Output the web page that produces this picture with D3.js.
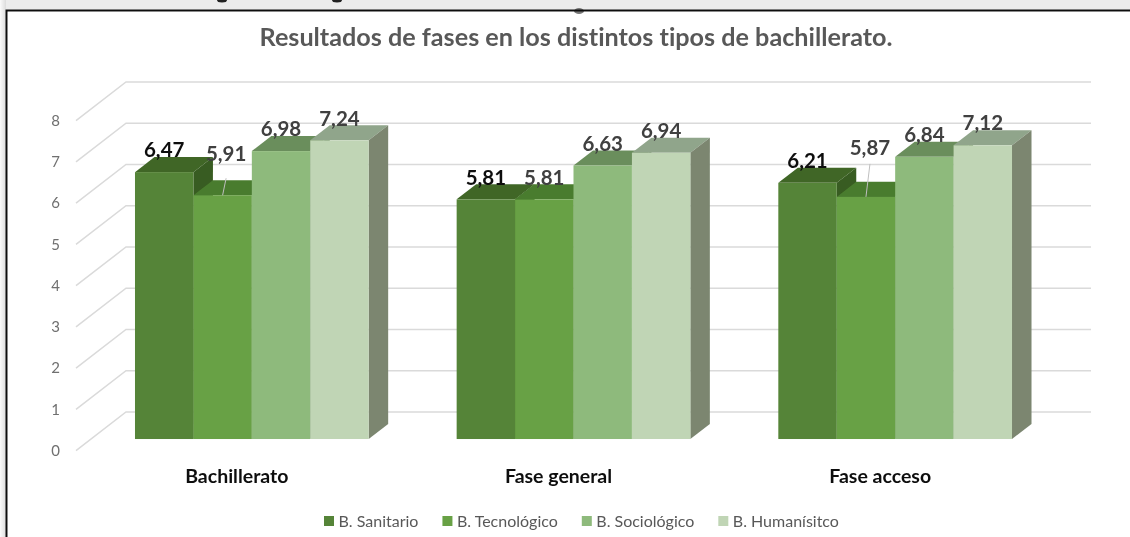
<!DOCTYPE html>
<html>
<head>
<meta charset="utf-8">
<script src="https://cdn.jsdelivr.net/npm/d3@7"></script>
<style>
	html, body { margin: 0; padding: 0; background: #fff; }
	svg { display: block; font-family: Lato, sans-serif; font-variant-ligatures: none; }
</style>
</head>
<body>
<div id="chart"></div>
<script>
const categories = ["Bachillerato", "Fase general", "Fase acceso"]
const seriesNames = ["B. Sanitario", "B. Tecnológico", "B. Sociológico", "B. Humanísitco"]
const sanitario = [6.47, 5.81, 6.21]
const tecnologico = [5.91, 5.81, 5.87]
const sociologico = [6.98, 6.63, 6.84]
const humanistico = [7.24, 6.94, 7.12]
const yTicks = [0, 1, 2, 3, 4, 5, 6, 7, 8]
const title = "Resultados de fases en los distintos tipos de bachillerato."

const frontColors = ["#558437", "#67a144", "#8eba7b", "#c0d5b5"]
const topColors = ["#3f6626", "#4a7c2f", "#6b8e5c", "#90a58b"]
const sideColors = ["#375c20", "#41702a", "#5f7f51", "#7b8670"]
const labelColors = ["#111111", "#404040", "#404040", "#404040"]

const width = 1130
const height = 537

// floor of the 3d box, front edge to back wall
const depthX = 50
const depthY = 38.6
const barFront = 0.3
const barBack = 0.69

const series = [sanitario, tecnologico, sociologico, humanistico]

const yScale = d3.scaleLinear()
	.domain([0, 8])
	.range([450.6, 120.6])

const xScale = d3.scaleBand()
	.domain(categories)
	.range([76, 1041])
	.paddingInner(0.2735)
	.paddingOuter(0.13675)

const xInner = d3.scaleBand()
	.domain(d3.range(seriesNames.length))
	.range([0, xScale.bandwidth()])

const svg = d3.select("#chart")
	.append("svg")
	.attr("width", width)
	.attr("height", height)

const defs = svg.append("defs")
const shade = defs.append("linearGradient")
	.attr("id", "leftShade")
shade.append("stop").attr("offset", "0%").attr("stop-color", "#fbfbfb")
shade.append("stop").attr("offset", "100%").attr("stop-color", "#dcdcdc")

// the reference is a slightly soft screenshot
defs.append("filter")
	.attr("id", "soft")
	.attr("x", "-5%").attr("y", "-5%")
	.attr("width", "110%").attr("height", "110%")
	.append("feGaussianBlur")
	.attr("stdDeviation", 0.45)

const root = svg.append("g").attr("filter", "url(#soft)")

// screenshot leftovers around the chart box
root.append("rect")
	.attr("width", width)
	.attr("height", 10)
	.attr("fill", "#ececec")
root.append("rect")
	.attr("width", 6)
	.attr("height", height)
	.attr("fill", "url(#leftShade)")

// bottoms of the cropped heading above the chart
root.selectAll(".stub")
	.data([222, 337])
	.join("ellipse")
	.attr("class", "stub")
	.attr("cx", d => d)
	.attr("cy", 0)
	.attr("rx", 5)
	.attr("ry", 2.5)
	.attr("fill", "#222")
root.append("ellipse")
	.attr("cx", 579)
	.attr("cy", 11)
	.attr("rx", 5)
	.attr("ry", 3)
	.attr("fill", "#777")

root.append("path")
	.attr("d", `M6.5 ${height} V10.5 H${width}`)
	.attr("fill", "none")
	.attr("stroke", "#111")
	.attr("stroke-width", 2)

root.append("text")
	.attr("x", 576)
	.attr("y", 46)
	.attr("text-anchor", "middle")
	.attr("font-size", 25.2)
	.attr("font-weight", 700)
	.attr("fill", "#595959")
	.text(title)

// gridlines: diagonal on the side wall, then along the back wall
root.append("g")
	.attr("class", "grid")
	.selectAll("path")
	.data(yTicks)
	.join("path")
	.attr("d", d => `M76 ${yScale(d)} L${76 + depthX} ${yScale(d) - depthY} H${1041 + depthX}`)
	.attr("fill", "none")
	.attr("stroke", "#dadada")
	.attr("stroke-width", 1.5)

const yAxis = d3.axisLeft(yScale)
	.tickValues(yTicks)
	.tickSize(0)
	.tickPadding(0)
root.append("g")
	.attr("class", "y-axis")
	.attr("transform", "translate(60 0)")
	.call(yAxis)
	.call(g => g.select(".domain").remove())
	.call(g => g.selectAll("text").attr("font-size", 15).attr("font-family", "Lato, sans-serif").attr("fill", "#6f6f6f"))

const xAxis = d3.axisBottom(xScale)
	.tickSize(0)
	.tickPadding(0)
root.append("g")
	.attr("class", "x-axis")
	.attr("transform", "translate(0 469)")
	.call(xAxis)
	.call(g => g.select(".domain").remove())
	.call(g => g.selectAll("text").attr("font-size", 19.5).attr("font-weight", 700).attr("font-family", "Lato, sans-serif").attr("fill", "#111"))

const dx = depthX * (barBack - barFront)
const dy = depthY * (barBack - barFront)
const baseY = v => yScale(v) - depthY * barFront

const bars = root.append("g")
	.attr("class", "bars")
	.attr("transform", `translate(${depthX * barFront} 0)`)

// left to right so each front face covers the side of the bar before it
categories.forEach((cat, c) => {
	series.forEach((values, s) => {
		const x0 = xScale(cat) + xInner(s)
		const x1 = x0 + xInner.bandwidth()
		const top = baseY(values[c])
		const bottom = baseY(0)
		const bar = bars.append("g")

		bar.append("path")
			.attr("d", `M${x0} ${top} l${dx} ${-dy} H${x1 + dx} L${x1} ${top} Z`)
			.attr("fill", topColors[s])
		bar.append("path")
			.attr("d", `M${x1} ${top} l${dx} ${-dy} V${bottom - dy} L${x1} ${bottom} Z`)
			.attr("fill", sideColors[s])
		bar.append("rect")
			.attr("x", x0)
			.attr("y", top)
			.attr("width", xInner.bandwidth())
			.attr("height", bottom - top)
			.attr("fill", frontColors[s])
	})
})

// the two labels Excel moved off their bars, with their leader lines
const movedLabels = [
	{ cat: 0, s: 1, dx: 3.5, dy: -19, gap: 24 },
	{ cat: 2, s: 1, dx: 4, dy: -27, gap: 16 },
]

const labels = root.append("g")
	.attr("class", "labels")
	.attr("transform", `translate(${depthX * barFront} 0)`)

categories.forEach((cat, c) => {
	series.forEach((values, s) => {
		const cx = xScale(cat) + xInner(s) + xInner.bandwidth() / 2
		const top = baseY(values[c])
		const moved = movedLabels.find(m => m.cat === c && m.s === s)
		const lx = cx + (moved ? moved.dx : 0)
		const ly = top - 22 + (moved ? moved.dy : 0)

		if (moved) {
			labels.append("line")
				.attr("x1", lx)
				.attr("y1", ly + moved.gap)
				.attr("x2", cx)
				.attr("y2", top)
				.attr("stroke", "#bfbfbf")
		}

		labels.append("text")
			.attr("x", lx)
			.attr("y", ly)
			.attr("dy", "0.35em")
			.attr("text-anchor", "middle")
			.attr("font-size", 20.5)
			.attr("font-weight", 700)
			.attr("fill", labelColors[s])
			.text(d3.format(".2f")(values[c]).replace(".", ","))
	})
})

// legend laid out from the measured text widths
const legend = root.append("g").attr("class", "legend")
let legendX = 324
seriesNames.forEach((name, s) => {
	legend.append("rect")
		.attr("x", legendX)
		.attr("y", 516)
		.attr("width", 10)
		.attr("height", 10)
		.attr("fill", frontColors[s])
	const label = legend.append("text")
		.attr("x", legendX + 14.5)
		.attr("y", 521)
		.attr("dy", "0.35em")
		.attr("font-size", 16)
		.attr("fill", "#595959")
		.text(name)
	legendX += 14.5 + label.node().getComputedTextLength() + 24
})
</script>
</body>
</html>
